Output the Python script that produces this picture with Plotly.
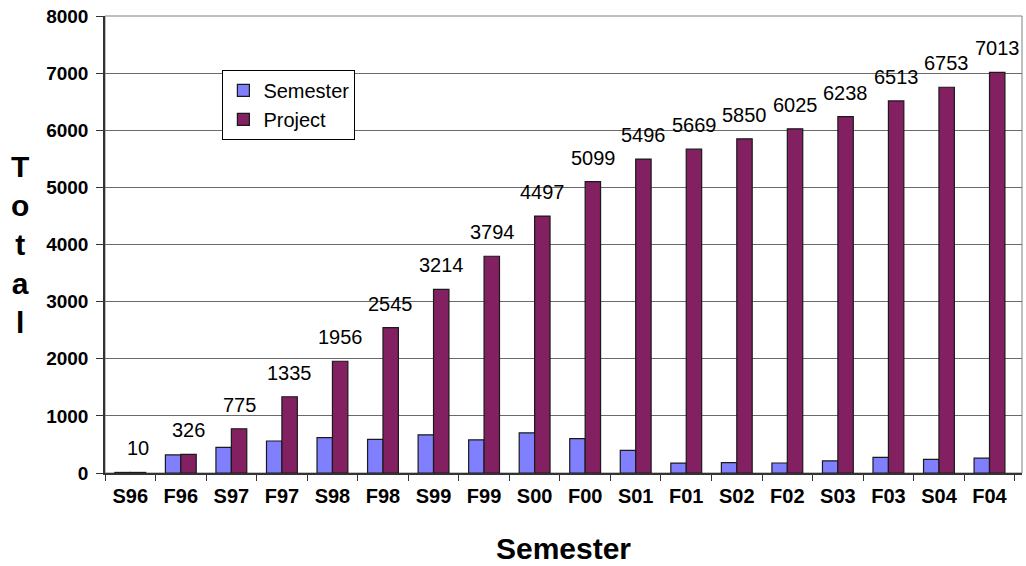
import plotly.graph_objects as go

semesters = ["S96", "F96", "S97", "F97", "S98", "F98", "S99", "F99", "S00",
             "F00", "S01", "F01", "S02", "F02", "S03", "F03", "S04", "F04"]
semester_totals = [10, 316, 449, 560, 621, 589, 669, 580, 703,
                   602, 397, 173, 181, 175, 213, 275, 240, 260]
project_totals = [10, 326, 775, 1335, 1956, 2545, 3214, 3794, 4497,
                  5099, 5496, 5669, 5850, 6025, 6238, 6513, 6753, 7013]
y_ticks = [0, 1000, 2000, 3000, 4000, 5000, 6000, 7000, 8000]

FONT = "Arial, 'Liberation Sans', sans-serif"
OUTLINE = dict(color="#1a1a1a", width=1.2)

fig = go.Figure()
fig.add_trace(go.Bar(
    name="Semester", x=semesters, y=semester_totals,
    marker=dict(color="#8080FF", line=OUTLINE),
))
fig.add_trace(go.Bar(
    name="Project", x=semesters, y=project_totals,
    marker=dict(color="#822062", line=OUTLINE),
))

# value labels above the Project bars (offset to the right-hand bar of each pair)
for cat, val in zip(semesters, project_totals):
    fig.add_annotation(
        x=cat, y=val, xref="x", yref="y", text=str(val), showarrow=False,
        xanchor="center", yanchor="bottom", xshift=8, yshift=11,
        font=dict(family=FONT, size=20, color="black"),
    )

# plot-area frame (grey top/right edge)
fig.add_shape(type="rect", xref="paper", yref="paper", x0=0, x1=1, y0=0, y1=1,
              line=dict(color="#808080", width=1), layer="below")

fig.add_annotation(
    text="<b>T<br>o<br>t<br>a<br>l</b>", xref="paper", yref="paper",
    x=-0.093, y=0.5, xanchor="center", yanchor="middle", showarrow=False,
    font=dict(family=FONT, size=30, color="black"), align="center",
)

fig.update_layout(
    width=1026, height=566,
    margin=dict(l=105, r=4, t=16, b=93),
    paper_bgcolor="white", plot_bgcolor="white",
    barmode="group", bargap=0.39, bargroupgap=0,
    font=dict(family=FONT, color="black"),
    showlegend=True,
    legend=dict(
        x=0.128, y=0.882, xanchor="left", yanchor="top",
        bgcolor="white", bordercolor="black", borderwidth=1,
        font=dict(family=FONT, size=20, color="black"),
        itemwidth=30, tracegroupgap=0,
    ),
    xaxis=dict(
        type="category", tickson="boundaries", ticks="outside", ticklen=6,
        tickcolor="#333333", showline=True, linecolor="#333333", linewidth=1.5,
        tickfont=dict(family=FONT, size=20, color="black", weight="bold"),
        ticklabelstandoff=4,
        title=dict(text="<b>Semester</b>", font=dict(family=FONT, size=30, color="black"),
                   standoff=32),
    ),
    yaxis=dict(
        range=[0, 8000], tickvals=y_ticks, ticks="outside", ticklen=7,
        tickcolor="#333333", showline=True, linecolor="#333333", linewidth=1.5,
        showgrid=True, gridcolor="#6a6a6a", gridwidth=1, zeroline=False,
        tickfont=dict(family=FONT, size=19, color="black", weight="bold"),
        ticklabelstandoff=4,
    ),
)

fig.write_html("out.html")
